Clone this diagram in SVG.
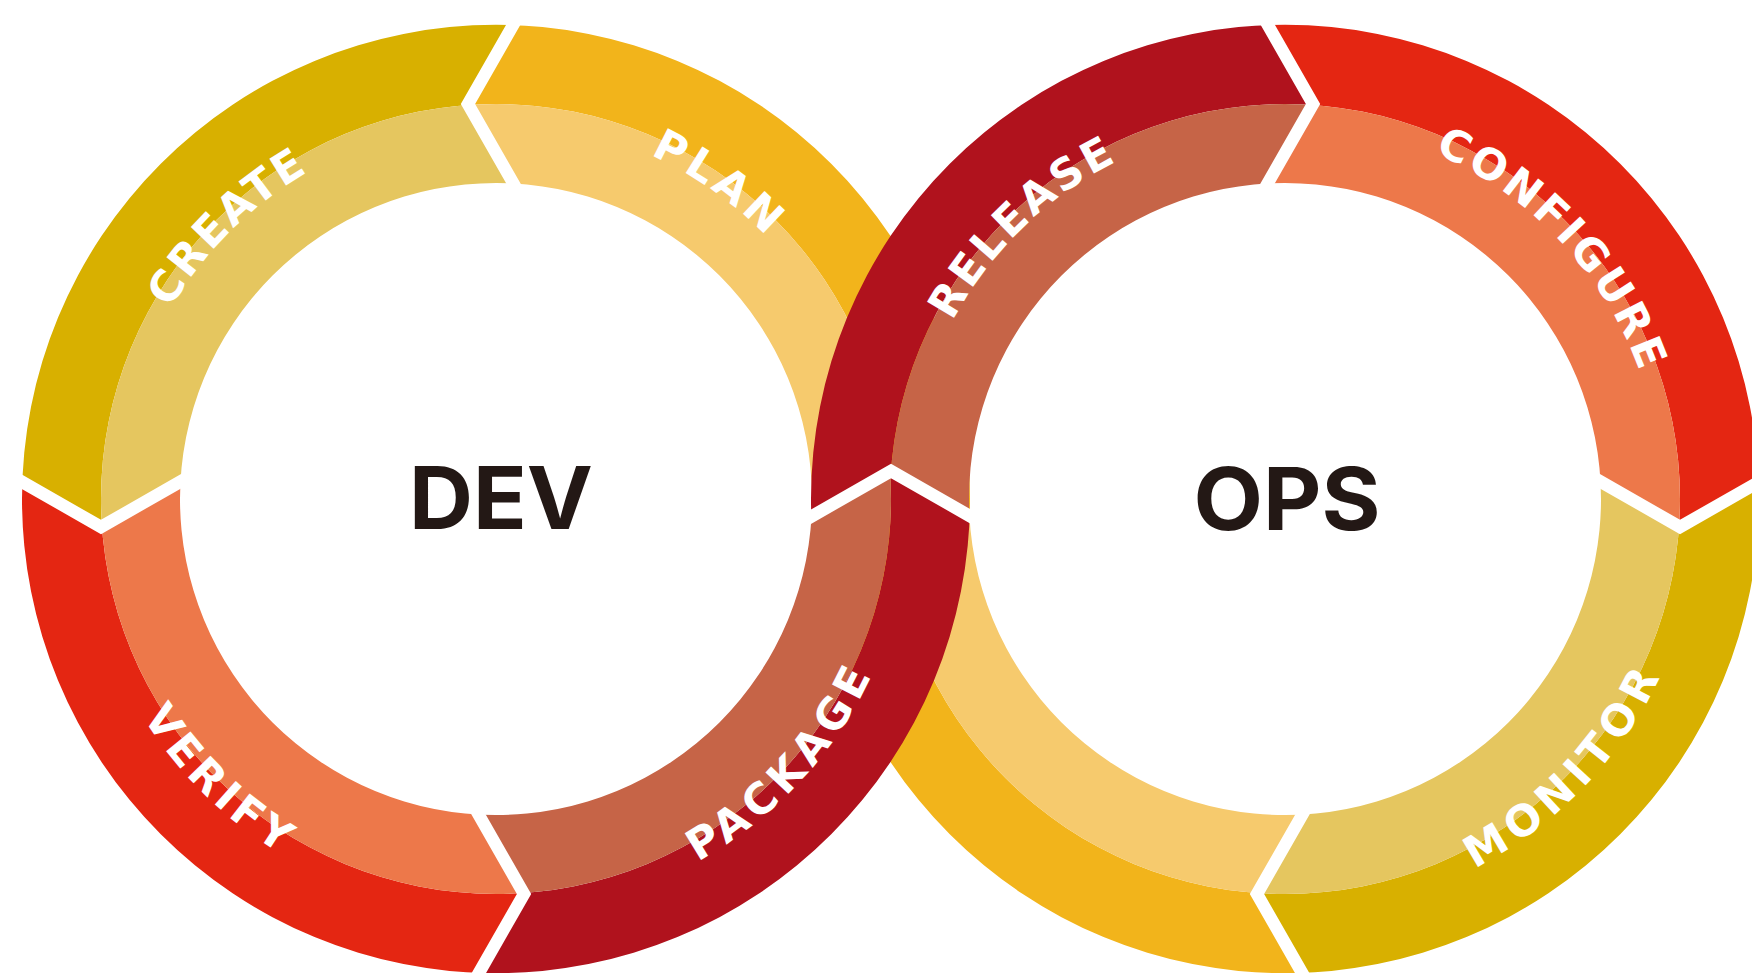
<svg xmlns="http://www.w3.org/2000/svg" width="1752" height="973" viewBox="0 0 1752 973">
<style>
.sep{fill:none;stroke:#fff;stroke-width:12.5;stroke-linejoin:miter;stroke-miterlimit:10}
.lbl{font-family:"DejaVu Sans","Open Sans","Liberation Sans",sans-serif;font-weight:700;font-size:43px;fill:#fff}
.big{font-family:Inter,"Liberation Sans",sans-serif;font-weight:700;font-size:86px;fill:#231815}
.gD{fill:#D8B000}.gL{fill:#E5C65F}
.aD{fill:#F2B41B}.aL{fill:#F6CA6D}
.rD{fill:#E42612}.rL{fill:#ED784A}
.cD{fill:#B0121D}.cL{fill:#C66447}
</style>
<defs>
<clipPath id="bandO"><path clip-rule="evenodd" d="M474 0A474 474 0 1 0 -474 0A474 474 0 1 0 474 0ZM395 0A395 395 0 1 0 -395 0A395 395 0 1 0 395 0Z"/></clipPath>
<clipPath id="bandI"><path clip-rule="evenodd" d="M395 0A395 395 0 1 0 -395 0A395 395 0 1 0 395 0ZM316 0A316 316 0 1 0 -316 0A316 316 0 1 0 316 0Z"/></clipPath>
<polygon id="wPlan" points="0,0 35,-284 -28,-395 35,-506 600,-600 506,35 395,-28 284,35"/>
<polygon id="wCreate" points="0,0 -284,-35 -395,28 -506,-35 -600,-600 35,-506 -28,-395 35,-284"/>
<polygon id="wVerify" points="0,0 -35,284 28,395 -35,506 -600,600 -506,-35 -395,28 -284,-35"/>
<polygon id="wPackage" points="0,0 284,35 395,-28 506,35 600,600 -35,506 28,395 -35,284"/>
<polygon id="wRelease" points="0,0 -35,-284 28,-395 -35,-506 -600,-600 -506,35 -395,-28 -284,35"/>
<polygon id="wConfigure" points="0,0 284,-35 395,28 506,-35 600,-600 -35,-506 28,-395 -35,-284"/>
<polygon id="wMonitor" points="0,0 35,284 -28,395 35,506 600,600 506,-35 395,28 284,-35"/>
<polygon id="wReturn" points="0,0 -284,35 -395,-28 -506,35 -600,600 35,506 -28,395 35,284"/>
<path id="arcTop" d="M-354.3 -128.9A377 377 0 0 1 354.3 -128.9"/>
<path id="arcBot" d="M-390 141.9A415 415 0 0 0 390 141.9"/>
</defs>

<g id="seg-plan" transform="translate(496,499)">
<use href="#wPlan" class="aD" clip-path="url(#bandO)"/>
<use href="#wPlan" class="aL" clip-path="url(#bandI)"/>
<text class="lbl" transform="rotate(35.3)" text-anchor="middle" letter-spacing="4.8"><textPath href="#arcTop" startOffset="50%">PLAN</textPath></text>
</g>
<g id="seg-create" transform="translate(496,499)">
<use href="#wCreate" class="gD" clip-path="url(#bandO)"/>
<use href="#wCreate" class="gL" clip-path="url(#bandI)"/>
<text class="lbl" transform="rotate(-44.6)" text-anchor="middle" letter-spacing="2.6"><textPath href="#arcTop" startOffset="50%">CREATE</textPath></text>
</g>
<g id="seg-verify" transform="translate(496,499)">
<use href="#wVerify" class="rD" clip-path="url(#bandO)"/>
<use href="#wVerify" class="rL" clip-path="url(#bandI)"/>
<text class="lbl" transform="rotate(44.5)" text-anchor="middle" letter-spacing="4.8"><textPath href="#arcBot" startOffset="50%">VERIFY</textPath></text>
</g>
<g id="seg-configure" transform="translate(1285,499)">
<use href="#wConfigure" class="rD" clip-path="url(#bandO)"/>
<use href="#wConfigure" class="rL" clip-path="url(#bandI)"/>
<text class="lbl" transform="rotate(47)" text-anchor="middle" letter-spacing="3.3"><textPath href="#arcTop" startOffset="50%">CONFIGURE</textPath></text>
</g>
<g id="seg-monitor" transform="translate(1285,499)">
<use href="#wMonitor" class="gD" clip-path="url(#bandO)"/>
<use href="#wMonitor" class="gL" clip-path="url(#bandI)"/>
<text class="lbl" transform="rotate(-46.3)" text-anchor="middle" letter-spacing="6.7"><textPath href="#arcBot" startOffset="50%">MONITOR</textPath></text>
</g>
<g id="seg-return" transform="translate(1285,499)">
<use href="#wReturn" class="aD" clip-path="url(#bandO)"/>
<use href="#wReturn" class="aL" clip-path="url(#bandI)"/>
</g>
<g id="seg-package" transform="translate(496,499)">
<use href="#wPackage" class="cD" clip-path="url(#bandO)"/>
<use href="#wPackage" class="cL" clip-path="url(#bandI)"/>
<text class="lbl" transform="rotate(-47.3)" text-anchor="middle" letter-spacing="5.8"><textPath href="#arcBot" startOffset="50%">PACKAGE</textPath></text>
</g>
<g id="seg-release" transform="translate(1285,499)">
<use href="#wRelease" class="cD" clip-path="url(#bandO)"/>
<use href="#wRelease" class="cL" clip-path="url(#bandI)"/>
<text class="lbl" transform="rotate(-44)" text-anchor="middle" letter-spacing="3.3"><textPath href="#arcTop" startOffset="50%">RELEASE</textPath></text>
</g>

<g id="connectors">
<g transform="translate(496,499)">
<polyline class="sep" points="20,-479 -28,-395 20,-311"/>
<polyline class="sep" points="-479,-20 -395,28 -311,-20"/>
<polyline class="sep" points="-20,479 28,395 -20,311"/>
<polyline class="sep" points="479,20 395,-28 311,20"/>
</g>
<g transform="translate(1285,499)">
<polyline class="sep" points="-20,-479 28,-395 -20,-311"/>
<polyline class="sep" points="479,-20 395,28 311,-20"/>
<polyline class="sep" points="20,479 -28,395 20,311"/>
</g>
</g>

<g id="hub-dev"><text class="big" x="501" y="529" text-anchor="middle" textLength="184" lengthAdjust="spacingAndGlyphs">DEV</text></g>
<g id="hub-ops"><text class="big" x="1287" y="530" text-anchor="middle" textLength="187" lengthAdjust="spacingAndGlyphs">OPS</text></g>
</svg>
